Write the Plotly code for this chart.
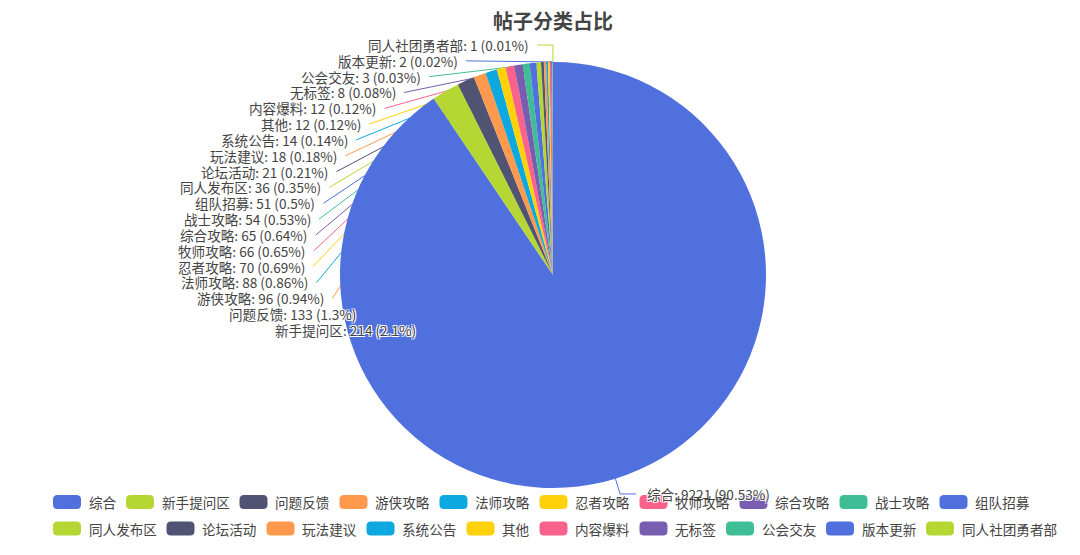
import math
import plotly.graph_objects as go

# ---------------- data ----------------
categories = ["综合", "新手提问区", "问题反馈", "游侠攻略", "法师攻略", "忍者攻略", "牧师攻略",
              "综合攻略", "战士攻略", "组队招募", "同人发布区", "论坛活动", "玩法建议", "系统公告",
              "其他", "内容爆料", "无标签", "公会交友", "版本更新", "同人社团勇者部"]
post_counts = [9221, 214, 133, 96, 88, 70, 66, 65, 54, 51, 36, 21, 18, 14, 12, 12, 8, 3, 2, 1]
title_text = "帖子分类占比"
palette = ["#5070dd", "#b6d634", "#505372", "#ff994d", "#0ca8df",
           "#ffd10a", "#fb628b", "#785db0", "#3fbe95"]

# ---------------- geometry (window pixels) ----------------
OFF = 8                      # page body margin
W, H = 1080 - OFF, 555 - OFF  # figure size
CX, CY, R = 553, 275, 213
TEXT_COLOR = "#444444"
FONT = "Noto Sans CJK SC, Noto Sans, sans-serif"
LABEL_SIZE = 13.6


def px(x):
    return (x - OFF) / W


def py(y):
    return 1 - (y - OFF) / H


colors = [palette[i % len(palette)] for i in range(len(categories))]
total = sum(post_counts)


# largest remainder percentages (2 decimals)
def percents(vals, precision=2):
    digits = 10 ** precision
    s = sum(vals)
    quotas = [v / s * digits * 100 for v in vals]
    seats = [math.floor(q) for q in quotas]
    rem = [q - f for q, f in zip(quotas, seats)]
    cur = sum(seats)
    while cur < digits * 100:
        i = max(range(len(rem)), key=lambda k: rem[k])
        seats[i] += 1
        rem[i] = -1
        cur += 1
    return [s_ / digits for s_ in seats]


def fmt(p):
    return f"{p:.2f}".rstrip("0").rstrip(".")


pcts = percents(post_counts)
label_texts = [f"{c}: {v} ({fmt(p)}%)" for c, v, p in zip(categories, post_counts, pcts)]

# mid angles (clockwise from 12 o'clock)
mids = []
cum = 0
for v in post_counts:
    mids.append((cum + v / 2) / total * 2 * math.pi)
    cum += v

fig = go.Figure()
fig.add_trace(go.Pie(
    labels=categories, values=post_counts, sort=False, direction="clockwise", rotation=0,
    marker=dict(colors=colors, line=dict(width=0)), textinfo="none", hoverinfo="label+value+percent",
    showlegend=False,
    domain=dict(x=[px(CX - R), px(CX + R)], y=[py(CY + R), py(CY - R)]),
))

shapes = []
annotations = []
shadow = "1px 1px 0 #fff, -1px -1px 0 #fff, 1px -1px 0 #fff, -1px 1px 0 #fff"

# ---------------- label layout ----------------
LEN1, LEN2, GAP = 16, 16, 6.5
Y_TOP, LINE_H = 45, 15.83
YC, RA, B_TOP = CY - 5, 224, 220.5

left = [i for i in range(len(post_counts)) if math.sin(mids[i]) < 0]
right = [i for i in range(len(post_counts)) if math.sin(mids[i]) >= 0]
left.sort(key=lambda i: CY - (R + LEN1) * math.cos(mids[i]))
ys = {i: Y_TOP + k * LINE_H for k, i in enumerate(left)}
bottom_i = left[-1]
dy_b = ys[bottom_i] - YC
B_BOT = dy_b / abs(math.cos(mids[bottom_i]))

for i in left:
    y = ys[i]
    dy = YC - y
    B = B_TOP if y <= YC else B_BOT
    t = 1 - (dy * dy) / (B * B)
    dx = RA * math.sqrt(t) if t > 0 else 0.0
    xs = CX - LEN2 - dx
    x1 = CX + R * math.sin(mids[i])
    y1 = CY - R * math.cos(mids[i])
    nat_y = CY - (R + LEN1) * math.cos(mids[i])
    if abs(nat_y - y) < 3:
        x2 = CX + (R + LEN1) * math.sin(mids[i])
        path = f"M {px(x1)},{py(y1)} L {px(x2)},{py(y)} L {px(xs)},{py(y)}"
    else:
        path = f"M {px(x1)},{py(y1)} L {px(xs)},{py(y)}"
    shapes.append(dict(type="path", xref="paper", yref="paper", path=path, layer="below",
                       line=dict(color=colors[i], width=1)))
    annotations.append(dict(x=px(xs - GAP), y=py(y), xref="paper", yref="paper",
                            xanchor="right", yanchor="middle", showarrow=False,
                            text=label_texts[i],
                            font=dict(family=FONT, size=LABEL_SIZE, color=TEXT_COLOR, shadow=shadow)))

for i in right:
    a = mids[i]
    x1, y1 = CX + R * math.sin(a), CY - R * math.cos(a)
    x2, y2 = CX + (R + LEN1) * math.sin(a), CY - (R + LEN1) * math.cos(a)
    x3 = x2 + LEN2
    path = f"M {px(x1)},{py(y1)} L {px(x2)},{py(y2)} L {px(x3)},{py(y2)}"
    shapes.append(dict(type="path", xref="paper", yref="paper", path=path, layer="below",
                       line=dict(color=colors[i], width=1)))
    annotations.append(dict(x=px(x3 + GAP + 2), y=py(y2), xref="paper", yref="paper",
                            xanchor="left", yanchor="middle", showarrow=False,
                            text=label_texts[i],
                            font=dict(family=FONT, size=LABEL_SIZE, color=TEXT_COLOR, shadow=shadow)))

# ---------------- custom legend ----------------
ICON_W, ICON_H, ICON_R = 28, 14, 4.5
ICON_GAP, ITEM_GAP, CHAR_W = 5.5, 12.5, 13.5
LEG_X0, LEG_XMAX = 53, 1062
ROW_Y = [502, 528.5]

row, x = 0, LEG_X0
for i, name in enumerate(categories):
    w = ICON_W + ICON_GAP + len(name) * CHAR_W
    if x + w > LEG_XMAX:
        row += 1
        x = LEG_X0
    yc = ROW_Y[min(row, len(ROW_Y) - 1)]
    x0, x1_ = x, x + ICON_W
    y0, y1_ = yc - ICON_H / 2, yc + ICON_H / 2
    r = ICON_R
    pts = [
        f"M {px(x0 + r)},{py(y0)}",
        f"L {px(x1_ - r)},{py(y0)}",
        f"Q {px(x1_)},{py(y0)} {px(x1_)},{py(y0 + r)}",
        f"L {px(x1_)},{py(y1_ - r)}",
        f"Q {px(x1_)},{py(y1_)} {px(x1_ - r)},{py(y1_)}",
        f"L {px(x0 + r)},{py(y1_)}",
        f"Q {px(x0)},{py(y1_)} {px(x0)},{py(y1_ - r)}",
        f"L {px(x0)},{py(y0 + r)}",
        f"Q {px(x0)},{py(y0)} {px(x0 + r)},{py(y0)} Z",
    ]
    shapes.append(dict(type="path", xref="paper", yref="paper", path=" ".join(pts),
                       fillcolor=colors[i], line=dict(width=0), layer="above"))
    annotations.append(dict(x=px(x + ICON_W + ICON_GAP), y=py(yc), xref="paper", yref="paper",
                            xanchor="left", yanchor="middle", showarrow=False, text=name,
                            font=dict(family=FONT, size=LABEL_SIZE, color=TEXT_COLOR)))
    x += w + ITEM_GAP

fig.update_layout(
    width=W, height=H,
    margin=dict(l=0, r=0, t=0, b=0),
    paper_bgcolor="white", plot_bgcolor="white",
    title=dict(text=title_text, x=px(CX), y=py(22), xanchor="center", yanchor="middle",
               xref="paper", yref="container",
               font=dict(family=FONT, size=20, color=TEXT_COLOR, weight="bold")),
    shapes=shapes, annotations=annotations, showlegend=False,
)

fig.write_html("out.html")
